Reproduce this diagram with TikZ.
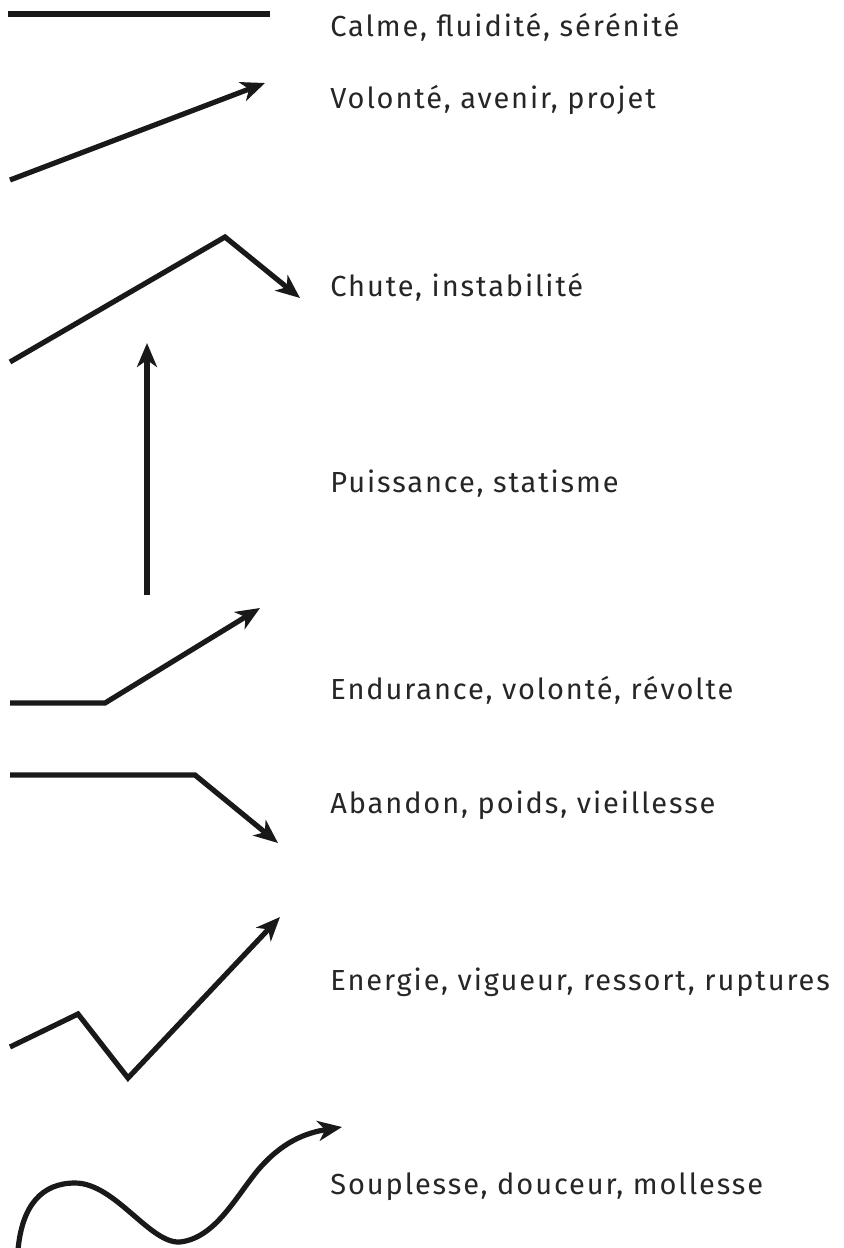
\documentclass[tikz,border=0pt]{standalone}
\usepackage{fontspec}
\setmainfont[LetterSpace=6.5]{Fira Sans}
\usetikzlibrary{arrows.meta}

\begin{document}
\begin{tikzpicture}[x=0.5pt,y=-0.5pt,
		stroke/.style={line width=2.6pt, color=black!90, line join=miter},
		arrowed/.style={stroke, -{Stealth[length=12pt, width=10pt, inset=3.5pt]}},
		word/.style={anchor=west, inner sep=0pt, font=\fontsize{14.5}{17}\selectfont, text=black!85}]
		\useasboundingbox (0,0) rectangle (843,1248);

		\draw (330,27) node [word] (calme) {Calme, fluidité, sérénité};
		\draw (330,100) node [word] (volonte) {Volonté, avenir, projet};
		\draw (330,287) node [word] (chute) {Chute, instabilité};
		\draw (330,484) node [word] (puissance) {Puissance, statisme};
		\draw (330,690) node [word] (endurance) {Endurance, volonté, révolte};
		\draw (330,805) node [word] (abandon) {Abandon, poids, vieillesse};
		\draw (330,982) node [word] (energie) {Energie, vigueur, ressort, ruptures};
		\draw (330,1187) node [word] (souplesse) {Souplesse, douceur, mollesse};

		\coordinate (a1) at (8,14);
		\coordinate (a2) at (270,14);
		\coordinate (b1) at (10,180);
		\coordinate (b2) at (265,83);
		\coordinate (c1) at (10,362);
		\coordinate (c2) at (225,237);
		\coordinate (c3) at (300,298);
		\coordinate (d1) at (147,595);
		\coordinate (d2) at (147,343);
		\coordinate (e1) at (10,703);
		\coordinate (e2) at (105,703);
		\coordinate (e3) at (260,608);
		\coordinate (f1) at (10,775);
		\coordinate (f2) at (195,775);
		\coordinate (f3) at (278,843);
		\coordinate (g1) at (10,1047);
		\coordinate (g2) at (78,1014);
		\coordinate (g3) at (128,1078);
		\coordinate (g4) at (280,917);
		\coordinate (h1) at (18,1250);
		\coordinate (h2) at (75,1183);
		\coordinate (h3) at (180,1242);
		\coordinate (h4) at (342,1127);

		\draw [stroke] (a1) -- (a2);
		\draw [arrowed] (b1) -- (b2);
		\draw [arrowed] (c1) -- (c2) -- (c3);
		\draw [arrowed] (d1) -- (d2);
		\draw [arrowed] (e1) -- (e2) -- (e3);
		\draw [arrowed] (f1) -- (f2) -- (f3);
		\draw [arrowed] (g1) -- (g2) -- (g3) -- (g4);
		\draw [arrowed] (h1) .. controls (22,1205) and (42,1183) .. (h2)
			.. controls (115,1183) and (150,1244) .. (h3)
			.. controls (215,1238) and (235,1198) .. (258,1170)
			.. controls (282,1142) and (305,1133) .. (h4);
	\end{tikzpicture}
\end{document}
